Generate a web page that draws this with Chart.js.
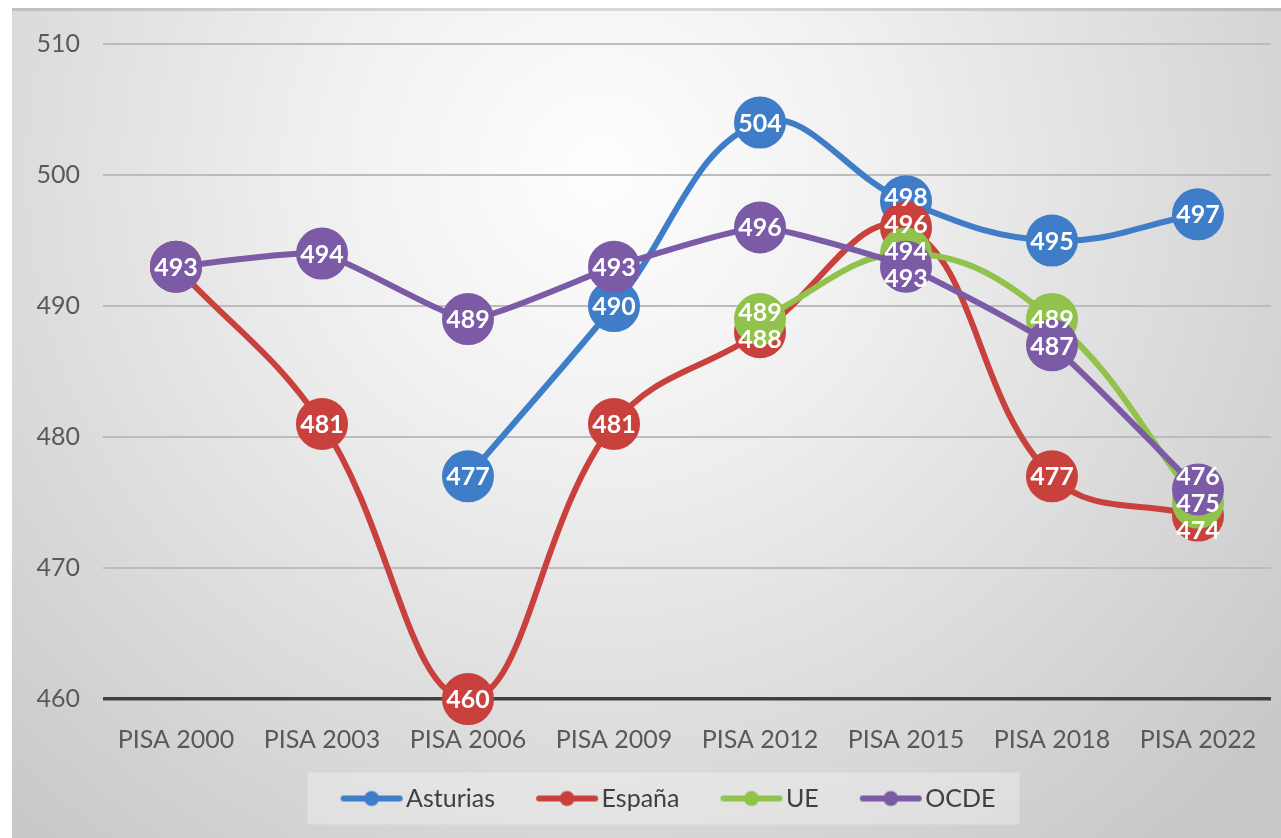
<!DOCTYPE html>
<html>
<head>
<meta charset="utf-8">
<script src="https://cdn.jsdelivr.net/npm/chart.js@4.4.0/dist/chart.umd.min.js"></script>
<style>
  html, body { margin: 0; padding: 0; background: #fff; }
</style>
</head>
<body>
<canvas id="PisaChart" width="1281" height="838"></canvas>
<script>
var xLabels = ["PISA 2000", "PISA 2003", "PISA 2006", "PISA 2009", "PISA 2012", "PISA 2015", "PISA 2018", "PISA 2022"];
var asturias = [null, null, 477, 490, 504, 498, 495, 497];
var espana = [493, 481, 460, 481, 488, 496, 477, 474];
var ue = [null, null, null, null, 489, 494, 489, 475];
var ocde = [493, 494, 489, 493, 496, 493, 487, 476];
var yMin = 460, yMax = 510, yStep = 10;

var seriesNames = ["Asturias", "España", "UE", "OCDE"];
var seriesData = [asturias, espana, ue, ocde];
var seriesColors = ["#3f7dc9", "#c9413d", "#91c24c", "#7b5ba6"];
var seriesTension = [0.4, 0.4, 0.4, 0.15];

// little line + dot icon for the legend
function legendIcon(color) {
  var c = document.createElement("canvas");
  c.width = 110; c.height = 18;
  var g = c.getContext("2d");
  g.strokeStyle = color;
  g.lineWidth = 6;
  g.lineCap = "round";
  g.beginPath(); g.moveTo(50, 9); g.lineTo(106, 9); g.stroke();
  g.fillStyle = color;
  g.beginPath(); g.arc(78, 9, 7.5, 0, Math.PI * 2); g.fill();
  return c;
}
var icons = seriesColors.map(legendIcon);

// grey gradient panel and legend box
var panel = {
  id: "panel",
  beforeDraw: function (chart) {
    var ctx = chart.ctx, w = chart.width, h = chart.height;
    ctx.save();
    ctx.fillStyle = "#fff";
    ctx.fillRect(0, 0, w, h);
    var g = ctx.createRadialGradient(600, 170, 0, 600, 170, 880);
    g.addColorStop(0, "#fefefe");
    g.addColorStop(0.3, "#f1f1f1");
    g.addColorStop(1, "#c8c8c8");
    ctx.fillStyle = g;
    ctx.fillRect(12, 8, w - 12, h - 8);
    ctx.fillStyle = "rgba(0,0,0,0.12)";
    ctx.fillRect(12, 8, w - 12, 3);
    var boxes = chart.legend && chart.legend.legendHitBoxes;
    if (boxes && boxes.length) {
      var first = boxes[0], last = boxes[boxes.length - 1];
      var cy = first.top + first.height / 2;
      var left = first.left + 4, right = last.left + last.width + 24;
      ctx.fillStyle = "rgba(255,255,255,0.3)";
      ctx.fillRect(left, cy - 26, right - left, 52);
    }
    ctx.restore();
  }
};

// spread labels that sit on top of each other at one category
function spreadLabels(items, gap) {
  items.sort(function (a, b) { return a.y - b.y; });
  var clusters = items.map(function (o) { return { items: [o], c: o.y }; });
  var changed = true;
  while (changed) {
    changed = false;
    for (var k = 0; k < clusters.length - 1; k++) {
      var a = clusters[k], b = clusters[k + 1];
      var aBottom = a.c + (a.items.length - 1) * gap / 2;
      var bTop = b.c - (b.items.length - 1) * gap / 2;
      if (bTop - aBottom < gap) {
        var merged = a.items.concat(b.items);
        var c = merged.reduce(function (s, o) { return s + o.y; }, 0) / merged.length;
        clusters.splice(k, 2, { items: merged, c: c });
        changed = true;
        break;
      }
    }
  }
  clusters.forEach(function (cl) {
    cl.items.forEach(function (o, j) {
      o.ly = cl.c + (j - (cl.items.length - 1) / 2) * gap;
    });
  });
}

var pointLabels = {
  id: "pointLabels",
  afterDatasetsDraw: function (chart) {
    var ctx = chart.ctx;
    var groups = {};
    chart.data.datasets.forEach(function (ds, di) {
      var meta = chart.getDatasetMeta(di);
      if (meta.hidden) return;
      meta.data.forEach(function (pt, i) {
        var v = ds.data[i];
        if (v === null || v === undefined) return;
        var grp = groups[i] || (groups[i] = []);
        if (grp.some(function (o) { return o.v === v; })) return;
        grp.push({ v: v, x: pt.x, y: pt.y });
      });
    });
    ctx.save();
    ctx.font = "bold 25px Lato";
    ctx.fillStyle = "#ffffff";
    ctx.textAlign = "center";
    ctx.textBaseline = "middle";
    Object.keys(groups).forEach(function (k) {
      var grp = groups[k];
      spreadLabels(grp, 27);
      grp.forEach(function (o) { ctx.fillText(String(o.v), o.x, o.ly + 1); });
    });
    ctx.restore();
  }
};

new Chart("PisaChart", {
  type: "line",
  data: {
    labels: xLabels,
    datasets: seriesNames.map(function (name, i) {
      return {
        label: name,
        data: seriesData[i],
        borderColor: seriesColors[i],
        backgroundColor: seriesColors[i],
        pointBackgroundColor: seriesColors[i],
        pointBorderColor: seriesColors[i],
        borderWidth: 6,
        pointRadius: 25,
        pointHoverRadius: 25,
        pointBorderWidth: 2,
        tension: seriesTension[i],
        fill: false,
        spanGaps: false,
        clip: false,
        order: seriesNames.length - i
      };
    })
  },
  options: {
    responsive: false,
    animation: false,
    layout: { autoPadding: false, padding: { left: 28, right: 10, top: 44, bottom: 17 } },
    plugins: {
      legend: {
        display: true,
        position: "bottom",
        labels: {
          usePointStyle: true,
          pointStyleWidth: 90,
          padding: 4,
          color: "#404040",
          font: { family: "Lato", size: 25 },
          sort: function (a, b) { return a.datasetIndex - b.datasetIndex; },
          generateLabels: function (chart) {
            var items = Chart.defaults.plugins.legend.labels.generateLabels(chart);
            items.forEach(function (it) { it.pointStyle = icons[it.datasetIndex]; });
            return items;
          }
        }
      },
      tooltip: { enabled: false },
      title: { display: false }
    },
    scales: {
      x: {
        offset: true,
        grid: { display: false, drawTicks: false },
        border: { display: false },
        ticks: { color: "#595959", font: { family: "Lato", size: 25 }, padding: 26, maxRotation: 0 },
        afterFit: function (s) { s.height = 83; s.paddingLeft = 0; s.paddingRight = 0; }
      },
      y: {
        min: yMin,
        max: yMax,
        border: { display: false },
        grid: {
          drawTicks: false,
          color: function (c) { return c.tick && c.tick.value === yMin ? "#404040" : "#bcbcbc"; },
          lineWidth: function (c) { return c.tick && c.tick.value === yMin ? 3.5 : 2; }
        },
        ticks: { stepSize: yStep, color: "#595959", font: { family: "Lato", size: 25 }, padding: 23 },
        afterFit: function (s) { s.width = 75; }
      }
    }
  },
  plugins: [panel, pointLabels]
});
</script>
</body>
</html>
